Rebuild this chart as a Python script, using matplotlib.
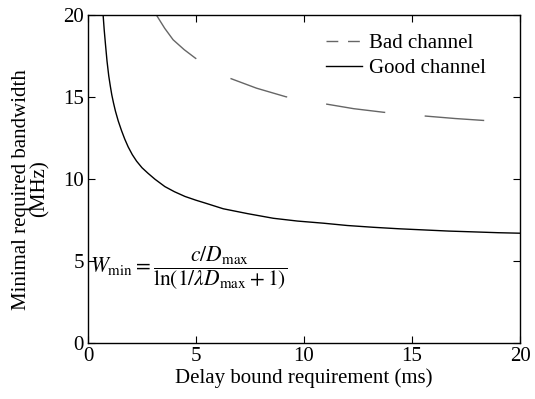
import matplotlib
matplotlib.use('Agg')
import matplotlib.pyplot as plt
from matplotlib.lines import Line2D

plt.rcParams['font.family'] = ['Liberation Serif', 'DejaVu Serif']
plt.rcParams['mathtext.fontset'] = 'stix'

# values
good_x = [0.70, 0.75, 0.81, 0.88, 0.96, 1.03, 1.1, 1.18, 1.27, 1.4, 1.55, 1.7,
          1.86, 2.05, 2.25, 2.5, 2.78, 3.1, 3.56, 4.0, 4.49, 5.0, 5.42, 6.26,
          7.4, 8.58, 9.7, 10.9, 12.0, 13.22, 14.4, 15.55, 16.7, 17.87, 19.0, 20]
good_y = [20, 19.1, 18.2, 17.2, 16.3, 15.7, 15.15, 14.65, 14.15, 13.55, 12.97, 12.45,
          11.97, 11.5, 11.1, 10.7, 10.36, 10.0, 9.55, 9.24, 8.95, 8.72, 8.55, 8.2,
          7.9, 7.62, 7.45, 7.32, 7.18, 7.07, 6.98, 6.91, 6.84, 6.79, 6.74, 6.71]
bad_x = [3.17, 3.55, 3.94, 4.45, 4.95, 5.7, 6.58, 7.8, 9.15, 10.99, 12.3,
         13.69, 15.53, 17.0, 18.46, 20]
bad_y = [20, 19.2, 18.5, 17.9, 17.4, 16.7, 16.15, 15.55, 15.03, 14.59, 14.3,
         14.08, 13.86, 13.7, 13.57, 13.45]

fig = plt.figure(figsize=(5.35, 3.99), dpi=100)
ax = fig.add_axes([0.1645, 0.1396, 0.8075, 0.8224])

ax.plot(bad_x, bad_y, color='#666666', lw=1.0, dashes=(43, 28.5))
ax.plot(good_x, good_y, color='black', lw=1.0)

ax.set_xlim(0, 20)
ax.set_ylim(0, 20)
ax.set_xticks([0, 5, 10, 15, 20])
ax.set_yticks([0, 5, 10, 15, 20])
ax.tick_params(direction='in', length=5, top=True, right=True, labelsize=15,
               pad=3)
for s in ax.spines.values():
    s.set_linewidth(1.0)

ax.set_xlabel('Delay bound requirement (ms)', fontsize=15, labelpad=1)
ax.set_ylabel('Minimal required bandwidth\n(MHz)', fontsize=15, linespacing=0.95)
ax.yaxis.set_label_coords(-0.088, 0.47)

handles = [Line2D([], [], color='#666666', lw=1.0, dashes=(8.5, 7)),
           Line2D([], [], color='black', lw=1.0)]
ax.legend(handles, ['Bad channel', 'Good channel'], loc='upper right',
          bbox_to_anchor=(0.965, 1.0), frameon=False, fontsize=15,
          handlelength=1.75, handletextpad=0.35, labelspacing=0.25,
          borderaxespad=0.5)

ax.text(0.08, 4.6, r'$W_{\min} = \dfrac{c/D_{\max}}{\ln(1/\lambda D_{\max}+1)}$',
        fontsize=15.5, ha='left', va='center')

fig.savefig('out.png', dpi=100)
